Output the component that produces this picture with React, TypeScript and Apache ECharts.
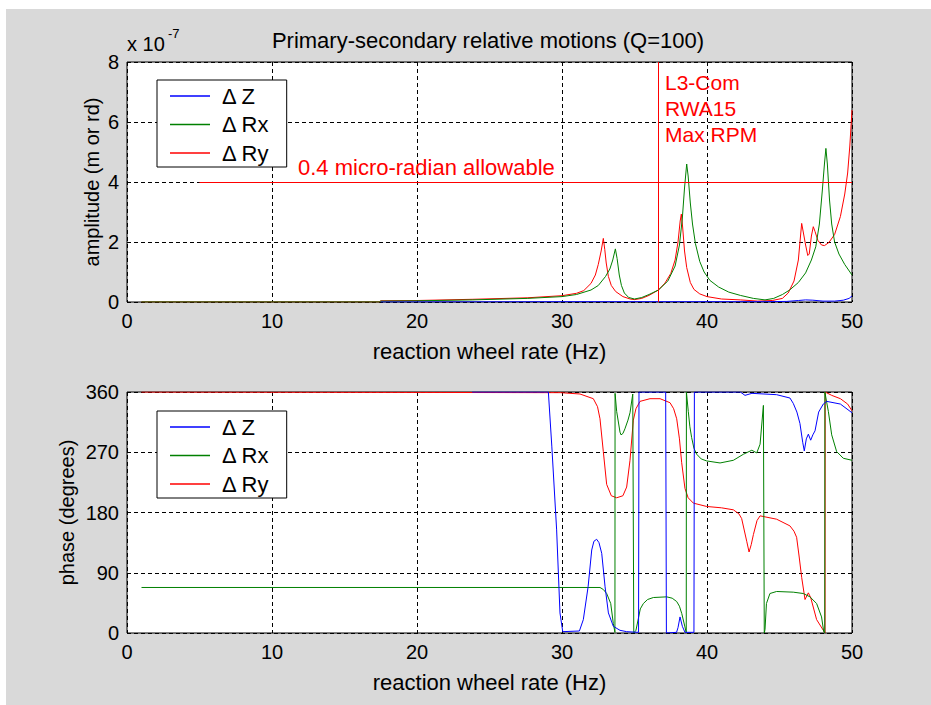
import React, { useEffect, useRef } from "react";
import * as echarts from "echarts";

// ---------- data (Hz, value) ----------
const seriesNames = ["Δ Z", "Δ Rx", "Δ Ry"];
const xTickLabels = ["0", "10", "20", "30", "40", "50"];
const ampTickLabels = ["0", "2", "4", "6", "8"];
const phaseTickLabels = ["0", "90", "180", "270", "360"];

// amplitude in units of 1e-7 (m or rd)
const ampZ: [number, number][] = [
  [17.5, 0], [30, 0.01], [40, 0.01], [44, 0.01], [45.5, 0.02], [46.3, 0.05], [46.8, 0.07],
  [47.3, 0.06], [48, 0.03], [48.8, 0.03], [49.4, 0.06], [49.8, 0.12], [50, 0.2],
];
const ampRx: [number, number][] = [
  [1, 0], [17.4, 0], [17.5, 0.03], [20, 0.04], [23.8, 0.07], [27.6, 0.12], [30, 0.18], [31, 0.25],
  [32.0, 0.4], [32.5, 0.55], [33.0, 0.85], [33.3, 1.1], [33.5, 1.4], [33.68, 1.77], [33.8, 1.45],
  [33.95, 0.9], [34.1, 0.55], [34.3, 0.3], [34.6, 0.15], [35, 0.1], [35.5, 0.15], [36, 0.25],
  [36.65, 0.4], [37.3, 0.7], [37.8, 1.2], [38.1, 1.9], [38.3, 2.8], [38.45, 3.8], [38.6, 4.6],
  [38.7, 4.2], [38.85, 3.3], [39.0, 2.6], [39.2, 1.95], [39.5, 1.35], [39.8, 1.0], [40.2, 0.72],
  [40.8, 0.5], [41.5, 0.33], [42.3, 0.22], [43.2, 0.12], [44.0, 0.07], [44.6, 0.12], [45.2, 0.25],
  [45.7, 0.4], [46.3, 0.65], [46.8, 0.97], [47.2, 1.4], [47.5, 1.84], [47.75, 2.6], [47.95, 3.7],
  [48.1, 4.6], [48.2, 5.12], [48.3, 4.6], [48.45, 3.4], [48.6, 2.6], [48.8, 2.0], [49.1, 1.6],
  [49.5, 1.25], [50, 0.9],
];
const ampRy: [number, number][] = [
  [1, 0], [17.4, 0], [17.5, 0.04], [20, 0.05], [23.8, 0.09], [27.6, 0.14], [30, 0.21], [31, 0.29],
  [31.5, 0.38], [32.0, 0.62], [32.3, 0.9], [32.5, 1.25], [32.7, 1.7], [32.85, 2.12], [32.95, 1.75],
  [33.05, 1.3], [33.2, 0.85], [33.4, 0.55], [33.7, 0.35], [34.2, 0.18], [34.7, 0.1], [35.0, 0.08],
  [35.5, 0.12], [36.0, 0.22], [36.65, 0.4], [37.1, 0.63], [37.5, 0.95], [37.8, 1.4], [38.0, 2.0],
  [38.15, 2.7], [38.23, 2.93], [38.32, 2.5], [38.45, 1.7], [38.6, 1.15], [38.85, 0.65], [39.1, 0.42],
  [39.5, 0.27], [40, 0.18], [41, 0.1], [42.3, 0.07], [43.5, 0.03], [44.5, 0.05], [45.2, 0.12],
  [45.6, 0.3], [46.0, 0.7], [46.3, 1.4], [46.45, 2.2], [46.53, 2.62], [46.65, 2.3], [46.8, 1.9],
  [46.95, 1.55], [47.05, 1.6], [47.2, 2.2], [47.33, 2.51], [47.45, 2.35], [47.65, 2.05], [47.9, 1.9],
  [48.1, 1.88], [48.4, 1.98], [48.8, 2.25], [49.2, 2.85], [49.5, 3.6], [49.7, 4.3], [49.85, 5.2],
  [50, 6.4],
];

// phase in degrees
const phaseZ: [number, number][] = [
  [23.8, 360], [29.06, 360], [29.3, 278], [29.63, 154], [29.86, 30], [30.05, 2], [31.2, 3],
  [31.47, 20], [31.8, 69], [32.05, 124], [32.2, 137], [32.39, 140], [32.55, 135], [32.74, 119],
  [32.97, 69], [33.2, 30], [33.54, 10], [34.0, 4], [34.46, 2], [35.28, 1], [35.31, 360],
  [37.15, 360], [37.2, 0], [37.9, 1], [38.0, 8], [38.14, 24], [38.3, 10], [38.48, 1], [39.1, 1],
  [39.13, 360], [42.3, 360], [42.62, 355], [43.1, 358], [44.8, 356], [45.72, 351], [45.95, 343],
  [46.2, 330], [46.41, 313], [46.6, 285], [46.71, 272], [46.85, 290], [46.99, 297], [47.15, 288],
  [47.3, 296], [47.45, 302], [47.7, 330], [48.02, 342], [48.25, 346], [49.2, 342], [50, 329],
];
const phaseRx: [number, number][] = [
  [1, 68], [32.62, 68], [32.85, 65], [33.08, 59], [33.36, 44], [33.54, 14], [33.65, 1], [33.66, 358],
  [33.77, 331], [34.0, 300], [34.07, 296], [34.2, 298], [34.34, 305], [34.55, 318], [34.69, 329],
  [34.88, 357], [34.95, 0], [35.1, 4], [35.27, 22], [35.4, 36], [35.61, 44], [35.9, 50], [36.3, 53],
  [37.22, 54], [37.6, 52], [37.91, 47], [38.1, 40], [38.26, 29], [38.48, 9], [38.57, 0], [38.58, 360],
  [38.71, 331], [38.82, 308], [38.94, 292], [39.1, 276], [39.29, 267], [39.6, 260], [39.98, 257],
  [40.9, 254], [41.82, 258], [42.51, 267], [43.09, 273], [43.43, 269], [43.66, 282], [43.89, 340],
  [43.95, 0], [44.0, 5], [44.1, 44], [44.34, 59], [44.8, 62], [45.95, 61], [46.64, 59],
  [47.1, 54], [47.56, 44], [47.9, 24], [48.05, 2], [48.12, 0], [48.13, 360], [48.25, 345],
  [48.37, 331], [48.6, 296], [48.94, 271], [49.4, 261], [50, 258],
];
const phaseRy: [number, number][] = [
  [1, 360], [29.9, 359], [31.24, 357], [32.16, 350], [32.45, 338], [32.62, 320], [32.85, 271],
  [33.08, 222], [33.4, 205], [33.77, 202], [34.2, 205], [34.46, 218], [34.69, 258], [34.92, 318],
  [35.1, 335], [35.38, 346], [36.07, 350], [36.76, 350], [37.45, 344], [37.7, 335], [37.91, 320],
  [38.1, 290], [38.25, 255], [38.48, 216], [38.7, 202], [39.06, 194], [39.98, 189], [41.0, 187],
  [41.82, 184], [42.2, 178], [42.39, 171], [42.74, 137], [42.9, 121], [43.05, 132], [43.2, 147],
  [43.45, 168], [43.66, 175], [44.8, 170], [45.72, 160], [46.0, 152], [46.18, 143], [46.35, 115],
  [46.53, 83], [46.76, 50], [46.99, 60], [47.15, 53], [47.56, 20], [48.14, 0], [48.15, 360],
  [48.6, 355], [49.2, 350], [49.7, 342], [50, 332],
];

// annotations
const maxRpmHz = 36.65;
const allowable = 4; // 0.4 micro-radian = 4 x 1e-7
const allowableStartHz = 5;

const colors = { z: "#0000ff", rx: "#008000", ry: "#ff0000" };
const FONT = "'Liberation Sans', Arial, Helvetica, sans-serif";

export default function App() {
  const ref = useRef<HTMLDivElement>(null);
  useEffect(() => {
    document.body.style.margin = "0";
    if (!ref.current) return;
    const chart = echarts.init(ref.current, undefined, { renderer: "svg" });

    const xAxisBase = (gridIndex: number) => ({
      type: "value" as const,
      gridIndex,
      min: 0,
      max: 50,
      interval: 10,
      axisLine: { show: false },
      axisTick: { show: false },
      axisLabel: {
        color: "#000", fontSize: 20, fontFamily: FONT, margin: 9,
        formatter: (v: number) => xTickLabels[Math.round(v / 10)] ?? String(v),
      },
      splitLine: { show: true, lineStyle: { color: "#000", width: 1, type: [4, 3] } },
      name: "reaction wheel rate (Hz)",
      nameLocation: "middle" as const,
      nameGap: 38,
      nameMoveOverlap: false,
      nameTextStyle: { color: "#000", fontSize: 22, fontFamily: FONT },
    });

    const line = (name: string, color: string, data: [number, number][], idx: number, extra: any = {}) => ({
      type: "line",
      name,
      xAxisIndex: idx,
      yAxisIndex: idx,
      data,
      symbol: "none",
      showSymbol: false,
      lineStyle: { color, width: 1 },
      itemStyle: { color },
      silent: true,
      ...extra,
    });

    const legendBase = (top: number) => ({
      data: seriesNames,
      orient: "vertical" as const,
      left: 157,
      top,
      padding: [5, 17, 3, 13],
      icon: "rect",
      itemWidth: 40,
      itemHeight: 1.5,
      itemGap: 6.5,
      backgroundColor: "#ffffff",
      borderColor: "#000",
      borderWidth: 1,
      borderRadius: 0,
      selectedMode: false,
      textStyle: { color: "#000", fontSize: 22, fontFamily: FONT, lineHeight: 22, padding: [0, 0, 0, 7] },
    });

    chart.setOption({
      animation: false,
      backgroundColor: "#ffffff",
      graphic: [
        { type: "rect", z: -100, shape: { x: 6, y: 9, width: 931, height: 705 }, style: { fill: "#d9d9d9" }, silent: true },
        {
          type: "text", x: 488, y: 40, z: 10,
          style: { text: "Primary-secondary relative motions (Q=100)", fill: "#000", fontSize: 22, fontFamily: FONT, textAlign: "center", textVerticalAlign: "middle" },
        },
        { type: "text", x: 127, y: 44, z: 10, style: { text: "x 10", fill: "#000", fontSize: 20, fontFamily: FONT, textAlign: "left", textVerticalAlign: "middle" } },
        { type: "text", x: 168, y: 33, z: 10, style: { text: "-7", fill: "#000", fontSize: 13, fontFamily: FONT, textAlign: "left", textVerticalAlign: "middle" } },
        {
          type: "text", x: 298, y: 167, z: 10,
          style: { text: "0.4 micro-radian allowable", fill: "#ff0000", fontSize: 22, fontFamily: FONT, textAlign: "left", textVerticalAlign: "middle" },
        },
        {
          type: "text", x: 665, y: 69, z: 10,
          style: { text: "L3-Com\nRWA15\nMax RPM", fill: "#ff0000", fontSize: 21, lineHeight: 26, fontFamily: FONT, textAlign: "left", textVerticalAlign: "top" },
        },
      ],
      legend: [legendBase(80), legendBase(411)],
      grid: [
        { left: 127, top: 62, width: 725, height: 240, show: true, backgroundColor: "#ffffff", borderColor: "#000", borderWidth: 1, containLabel: false, outerBoundsMode: "none" },
        { left: 127, top: 392, width: 725, height: 241, show: true, backgroundColor: "#ffffff", borderColor: "#000", borderWidth: 1, containLabel: false, outerBoundsMode: "none" },
      ],
      xAxis: [xAxisBase(0), xAxisBase(1)],
      yAxis: [
        {
          type: "value", gridIndex: 0, min: 0, max: 8, interval: 2,
          axisLine: { show: false }, axisTick: { show: false },
          axisLabel: { color: "#000", fontSize: 20, fontFamily: FONT, margin: 8, formatter: (v: number) => ampTickLabels[Math.round(v / 2)] ?? String(v) },
          splitLine: { show: true, lineStyle: { color: "#000", width: 1, type: [4, 3] } },
          name: "amplitude (m or rd)", nameLocation: "middle", nameGap: 25, nameMoveOverlap: false,
          nameTextStyle: { color: "#000", fontSize: 20, fontFamily: FONT },
        },
        {
          type: "value", gridIndex: 1, min: 0, max: 360, interval: 90,
          axisLine: { show: false }, axisTick: { show: false },
          axisLabel: { color: "#000", fontSize: 20, fontFamily: FONT, margin: 8, formatter: (v: number) => phaseTickLabels[Math.round(v / 90)] ?? String(v) },
          splitLine: { show: true, lineStyle: { color: "#000", width: 1, type: [4, 3] } },
          name: "phase (degrees)", nameLocation: "middle", nameGap: 50, nameMoveOverlap: false,
          nameTextStyle: { color: "#000", fontSize: 20, fontFamily: FONT },
        },
      ],
      series: [
        line("Δ Ry", colors.ry, ampRy, 0, {
          markLine: {
            silent: true,
            symbol: "none",
            label: { show: false },
            lineStyle: { color: "#ff0000", width: 1, type: "solid" },
            data: [
              { xAxis: maxRpmHz },
              [{ coord: [allowableStartHz, allowable] }, { coord: [50, allowable] }],
            ],
          },
        }),
        line("Δ Rx", colors.rx, ampRx, 0),
        line("Δ Z", colors.z, ampZ, 0),
        line("Δ Ry", colors.ry, phaseRy, 1),
        line("Δ Rx", colors.rx, phaseRx, 1),
        line("Δ Z", colors.z, phaseZ, 1),
      ],
    });
    return () => chart.dispose();
  }, []);
  return (
    <div style={{ width: 931, height: 705, background: "#fff" }}>
      <div ref={ref} style={{ width: 931, height: 705 }} />
    </div>
  );
}
